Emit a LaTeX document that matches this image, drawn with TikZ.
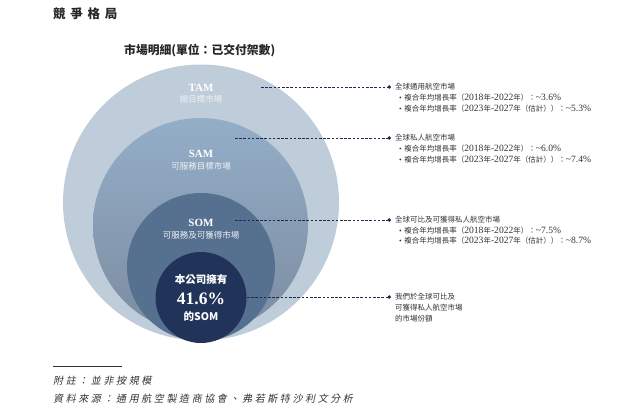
\documentclass[tikz,border=0pt]{standalone}
\usepackage{fontspec}
\usetikzlibrary{arrows.meta}
\setmainfont{Liberation Serif}
\newfontfamily\cjk{Noto Sans CJK TC}
\newfontfamily\cjktitle{Noto Sans CJK TC}[LetterSpace=38]
\newfontfamily\cjkfoot{Noto Sans CJK TC}[FakeSlant=0.2,LetterSpace=26]
\newcommand{\C}[1]{{\cjk #1}}
\newcommand{\Lt}[1]{{\fontsize{9.6}{9}\selectfont #1}}
\definecolor{tamc}{HTML}{BFCDDA}
\definecolor{samtop}{HTML}{94AEC8}
\definecolor{sambot}{HTML}{7C8CA0}
\definecolor{somc}{HTML}{56708F}
\definecolor{ownc}{HTML}{22335A}
\definecolor{navy}{HTML}{1E2B50}
\definecolor{txt}{HTML}{333333}
\definecolor{subt}{HTML}{EEF2F6}
\tikzset{
  ring/.style={circle, inner sep=0pt, draw=none},
  big/.style={font=\bfseries\fontsize{11}{12}\selectfont, text=white, inner sep=0pt},
  sub/.style={font=\cjk\fontsize{8.5}{10}\selectfont, text=subt, inner sep=0pt},
  own/.style={font=\cjk\bfseries\fontsize{10.5}{12}\selectfont, text=white, inner sep=0pt},
  rt/.style={anchor=west, inner sep=0pt, text=txt, font=\fontsize{7.5}{9}\selectfont},
  conn/.style={navy, line width=0.95pt, dash pattern=on 2.6pt off 1.6pt, shorten >=4pt, -{Circle[length=3.4pt]}},
}
\begin{document}
\begin{tikzpicture}[x=1pt,y=-1pt]
\useasboundingbox (0,0) rectangle (640,409);
% titles
\node[anchor=west, inner sep=0pt, font=\cjktitle\bfseries\fontsize{12.5}{14}\selectfont, text=black!85] (title) at (53,14) {競爭格局};
\node[anchor=west, inner sep=0pt, font=\cjk\bfseries\fontsize{11.8}{13}\selectfont, text=black!85] (sub) at (124,50.5) {市場明細(單位：已交付架數)};
% circles
\node[ring, fill=tamc, minimum size=276pt] (tam) at (201,202.5) {};
\node[ring, top color=samtop, bottom color=sambot, minimum size=215pt] (sam) at (200.5,225.5) {};
\node[ring, fill=somc, minimum size=148pt] (som) at (201,267) {};
\node[ring, fill=ownc, minimum size=91pt] (ownc) at (201,297.5) {};
% circle labels
\node[big] (tamt) at (201,88) {TAM};
\node[sub] (tams) at (201,99.5) {總目標市場};
\node[big] (samt) at (201,154) {SAM};
\node[sub] (sams) at (201,166) {可服務目標市場};
\node[big] (somt) at (201,223) {SOM};
\node[sub] (soms) at (201,235) {可服務及可獲得市場};
\node[own] (o1) at (201,280) {本公司擁有};
\node[font=\bfseries\fontsize{17.5}{19}\selectfont, text=white, inner sep=0pt] (o2) at (201,299) {41.6\%};
\node[own] (o3) at (201,317) {的\textbf{SOM}};
% right texts
\node[rt] (h1) at (395,87) {\C{全球通用航空市場}};
\node[rt] (b1a) at (399,97.5) {\textbullet\hspace{2.5pt}\C{複合年均增長率（}\Lt{2018}\C{年}\Lt{-2022}\C{年）：}\Lt{\textasciitilde3.6\%}};
\node[rt] (b1b) at (399,108.5) {\textbullet\hspace{2.5pt}\C{複合年均增長率（}\Lt{2023}\C{年}\Lt{-2027}\C{年（估計））：}\Lt{\textasciitilde5.3\%}};
\node[rt] (h2) at (395,138) {\C{全球私人航空市場}};
\node[rt] (b2a) at (399,149) {\textbullet\hspace{2.5pt}\C{複合年均增長率（}\Lt{2018}\C{年}\Lt{-2022}\C{年）：}\Lt{\textasciitilde6.0\%}};
\node[rt] (b2b) at (399,159.5) {\textbullet\hspace{2.5pt}\C{複合年均增長率（}\Lt{2023}\C{年}\Lt{-2027}\C{年（估計））：}\Lt{\textasciitilde7.4\%}};
\node[rt] (h3) at (395,220) {\C{全球可比及可獲得私人航空市場}};
\node[rt] (b3a) at (399,230.5) {\textbullet\hspace{2.5pt}\C{複合年均增長率（}\Lt{2018}\C{年}\Lt{-2022}\C{年）：}\Lt{\textasciitilde7.5\%}};
\node[rt] (b3b) at (399,241) {\textbullet\hspace{2.5pt}\C{複合年均增長率（}\Lt{2023}\C{年}\Lt{-2027}\C{年（估計））：}\Lt{\textasciitilde8.7\%}};
\node[rt] (h4) at (395,297) {\C{我們於全球可比及}};
\node[rt] (h4b) at (395,308) {\C{可獲得私人航空市場}};
\node[rt] (h4c) at (395,318.5) {\C{的市場份額}};
% connectors
\coordinate (c1) at (261,87);
\coordinate (c2) at (235,138);
\coordinate (c3) at (235,220);
\coordinate (c4) at (247,297);
\draw[conn] (c1) -- (h1.west);
\draw[conn] (c2) -- (h2.west);
\draw[conn] (c3) -- (h3.west);
\draw[conn] (c4) -- (h4.west);
% footer
\coordinate (r1) at (53,366);
\coordinate (r2) at (122,366);
\draw[black!80, line width=0.5pt] (r1) -- (r2);
\node[anchor=west, inner sep=0pt, font=\cjkfoot\fontsize{10}{12}\selectfont, text=txt] (f1) at (53,381) {附註：並非按規模};
\node[anchor=west, inner sep=0pt, font=\cjkfoot\fontsize{10}{12}\selectfont, text=txt] (f2) at (53,399) {資料來源：通用航空製造商協會、弗若斯特沙利文分析};
\end{tikzpicture}
\end{document}
